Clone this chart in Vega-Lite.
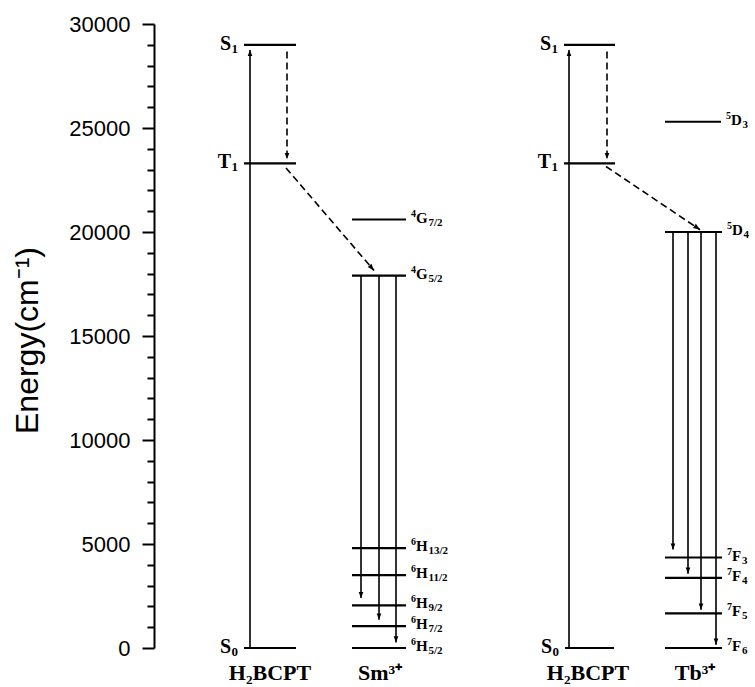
{
  "$schema": "https://vega.github.io/schema/vega-lite/v6.json",
  "width": 600,
  "height": 624,
  "autosize": {"type": "none"},
  "padding": {"left": 154, "top": 24, "right": 1, "bottom": 39},
  "background": "white",
  "config": {"view": {"stroke": null}},
  "resolve": {"axis": {"y": "independent"}},
  "datasets": {
    "levels": [
      {"x1": 90, "x2": 142, "e": 29000, "sup": "", "main": "S", "sub": "1", "side": "left"},
      {"x1": 90, "x2": 142, "e": 23300, "sup": "", "main": "T", "sub": "1", "side": "left"},
      {"x1": 90, "x2": 142, "e": 0, "sup": "", "main": "S", "sub": "0", "side": "left"},
      {"x1": 198, "x2": 252, "e": 20600, "sup": "4", "main": "G", "sub": "7/2", "side": "right"},
      {"x1": 198, "x2": 252, "e": 17900, "sup": "4", "main": "G", "sub": "5/2", "side": "right"},
      {"x1": 198, "x2": 252, "e": 4800, "sup": "6", "main": "H", "sub": "13/2", "side": "right"},
      {"x1": 198, "x2": 252, "e": 3500, "sup": "6", "main": "H", "sub": "11/2", "side": "right"},
      {"x1": 198, "x2": 252, "e": 2050, "sup": "6", "main": "H", "sub": "9/2", "side": "right"},
      {"x1": 198, "x2": 252, "e": 1050, "sup": "6", "main": "H", "sub": "7/2", "side": "right"},
      {"x1": 198, "x2": 252, "e": 0, "sup": "6", "main": "H", "sub": "5/2", "side": "right"},
      {"x1": 410, "x2": 461, "e": 29000, "sup": "", "main": "S", "sub": "1", "side": "left"},
      {"x1": 410, "x2": 461, "e": 23300, "sup": "", "main": "T", "sub": "1", "side": "left"},
      {"x1": 411, "x2": 460, "e": 0, "sup": "", "main": "S", "sub": "0", "side": "left"},
      {"x1": 511, "x2": 567, "e": 25300, "sup": "5", "main": "D", "sub": "3", "side": "right"},
      {"x1": 511, "x2": 568, "e": 20000, "sup": "5", "main": "D", "sub": "4", "side": "right"},
      {"x1": 511, "x2": 568, "e": 4350, "sup": "7", "main": "F", "sub": "3", "side": "right"},
      {"x1": 511, "x2": 568, "e": 3370, "sup": "7", "main": "F", "sub": "4", "side": "right"},
      {"x1": 511, "x2": 568, "e": 1660, "sup": "7", "main": "F", "sub": "5", "side": "right"},
      {"x1": 511, "x2": 568, "e": 0, "sup": "7", "main": "F", "sub": "6", "side": "right"}
    ],
    "arrows": [
      {"x0": 96, "e0": 0, "x1": 96, "e1": 28750, "kind": "absorption"},
      {"x0": 133, "e0": 28680, "x1": 133, "e1": 23500, "kind": "ISC"},
      {"x0": 132, "e0": 23080, "x1": 220, "e1": 18150, "kind": "ET"},
      {"x0": 207, "e0": 17900, "x1": 207, "e1": 2400, "kind": "emission"},
      {"x0": 225, "e0": 17900, "x1": 225, "e1": 1360, "kind": "emission"},
      {"x0": 242, "e0": 17900, "x1": 242, "e1": 270, "kind": "emission"},
      {"x0": 415, "e0": 0, "x1": 415, "e1": 28750, "kind": "absorption"},
      {"x0": 453, "e0": 28680, "x1": 453, "e1": 23500, "kind": "ISC"},
      {"x0": 452, "e0": 23150, "x1": 546, "e1": 20110, "kind": "ET"},
      {"x0": 519, "e0": 20000, "x1": 519, "e1": 4730, "kind": "emission"},
      {"x0": 534, "e0": 20000, "x1": 534, "e1": 3570, "kind": "emission"},
      {"x0": 547, "e0": 20000, "x1": 547, "e1": 1840, "kind": "emission"},
      {"x0": 562, "e0": 20000, "x1": 562, "e1": 160, "kind": "emission"}
    ],
    "species": [
      {"x": 116, "name": "H₂BCPT"},
      {"x": 226, "name": "Sm³⁺"},
      {"x": 434, "name": "H₂BCPT"},
      {"x": 541, "name": "Tb³⁺"}
    ]
  },
  "layer": [
    {
      "data": {"name": "levels"},
      "mark": {"type": "rule", "strokeWidth": 2.2, "color": "black"},
      "encoding": {
        "x": {"field": "x1", "type": "quantitative", "scale": {"domain": [0, 600]}, "axis": null},
        "x2": {"field": "x2"},
        "y": {
          "field": "e", "type": "quantitative",
          "scale": {"domain": [0, 30000], "nice": false, "zero": false},
          "axis": {
            "orient": "left",
            "title": "Energy(cm⁻¹)",
            "values": [0, 5000, 10000, 15000, 20000, 25000, 30000],
            "format": "d",
            "tickSize": 12,
            "tickWidth": 2,
            "tickColor": "black",
            "domainColor": "black",
            "domainWidth": 2,
            "grid": false,
            "labelFont": "Liberation Sans",
            "labelFontSize": 22,
            "labelColor": "black",
            "labelPadding": 12,
            "labelFlush": false,
            "labelOverlap": false,
            "titleFont": "Liberation Sans",
            "titleFontSize": 32,
            "titleFontWeight": "normal",
            "titleColor": "black",
            "titleAngle": -90,
            "titleAlign": "center",
            "titleBaseline": "alphabetic",
            "titleX": -117,
            "titleY": 316
          }
        }
      }
    },
    {
      "data": {"name": "arrows"},
      "mark": {"type": "rule", "strokeWidth": 1.6, "color": "black"},
      "encoding": {
        "x": {"field": "x0", "type": "quantitative", "axis": null},
        "x2": {"field": "x1"},
        "y": {
          "field": "e0", "type": "quantitative",
          "axis": {
            "orient": "left",
            "title": null,
            "values": [1000,2000,3000,4000,6000,7000,8000,9000,11000,12000,13000,14000,16000,17000,18000,19000,21000,22000,23000,24000,26000,27000,28000,29000],
            "labels": false,
            "domain": false,
            "grid": false,
            "tickSize": 7,
            "tickWidth": 2,
            "tickColor": "black"
          }
        },
        "y2": {"field": "e1"},
        "strokeDash": {"field": "kind", "type": "nominal", "scale": {"domain": ["absorption", "emission", "ISC", "ET"], "range": [[1, 0], [1, 0], [7, 4], [7, 4]]}, "legend": null},
        "strokeWidth": {"field": "kind", "type": "nominal", "scale": {"domain": ["absorption", "emission", "ISC", "ET"], "range": [1.6, 1.6, 2, 2]}, "legend": null}
      }
    },
    {
      "data": {"name": "arrows"},
      "transform": [{"filter": "datum.x0 == datum.x1 && datum.e1 < datum.e0"}],
      "mark": {"type": "point", "shape": "M-0.38,-1L0,0L0.38,-1Z", "filled": true, "color": "black", "opacity": 1, "size": 150, "strokeWidth": 0},
      "encoding": {
        "x": {"field": "x1", "type": "quantitative", "axis": null},
        "y": {"field": "e1", "type": "quantitative", "axis": null}
      }
    },
    {
      "data": {"name": "arrows"},
      "transform": [{"filter": "datum.e1 > datum.e0"}],
      "mark": {"type": "point", "shape": "M-0.38,1L0,0L0.38,1Z", "filled": true, "color": "black", "opacity": 1, "size": 150, "strokeWidth": 0},
      "encoding": {
        "x": {"field": "x1", "type": "quantitative", "axis": null},
        "y": {"field": "e1", "type": "quantitative", "axis": null}
      }
    },
    {
      "data": {"name": "arrows"},
      "transform": [{"filter": "datum.x0 != datum.x1 && datum.x0 < 300"}],
      "mark": {"type": "point", "shape": "M-0.38,-1L0,0L0.38,-1Z", "filled": true, "color": "black", "opacity": 1, "size": 180, "strokeWidth": 0, "angle": 319},
      "encoding": {
        "x": {"field": "x1", "type": "quantitative", "axis": null},
        "y": {"field": "e1", "type": "quantitative", "axis": null}
      }
    },
    {
      "data": {"name": "arrows"},
      "transform": [{"filter": "datum.x0 != datum.x1 && datum.x0 > 300"}],
      "mark": {"type": "point", "shape": "M-0.38,-1L0,0L0.38,-1Z", "filled": true, "color": "black", "opacity": 1, "size": 180, "strokeWidth": 0, "angle": 304},
      "encoding": {
        "x": {"field": "x1", "type": "quantitative", "axis": null},
        "y": {"field": "e1", "type": "quantitative", "axis": null}
      }
    },
    {
      "data": {"name": "levels"},
      "transform": [{"filter": "datum.side == 'left'"}],
      "mark": {"type": "text", "align": "right", "baseline": "alphabetic", "dx": -13, "dy": 5, "font": "Liberation Serif", "fontWeight": "bold", "fontSize": 20, "color": "black"},
      "encoding": {
        "x": {"field": "x1", "type": "quantitative", "axis": null},
        "y": {"field": "e", "type": "quantitative", "axis": null},
        "text": {"field": "main"}
      }
    },
    {
      "data": {"name": "levels"},
      "transform": [{"filter": "datum.side == 'left'"}],
      "mark": {"type": "text", "align": "right", "baseline": "alphabetic", "dx": -6, "dy": 8, "font": "Liberation Serif", "fontWeight": "bold", "fontSize": 13, "color": "black"},
      "encoding": {
        "x": {"field": "x1", "type": "quantitative", "axis": null},
        "y": {"field": "e", "type": "quantitative", "axis": null},
        "text": {"field": "sub"}
      }
    },
    {
      "data": {"name": "levels"},
      "transform": [{"filter": "datum.side == 'right'"}],
      "mark": {"type": "text", "align": "left", "baseline": "alphabetic", "dx": 5, "dy": -3, "font": "Liberation Serif", "fontWeight": "bold", "fontSize": 10, "color": "black"},
      "encoding": {
        "x": {"field": "x2", "type": "quantitative", "axis": null},
        "y": {"field": "e", "type": "quantitative", "axis": null},
        "text": {"field": "sup"}
      }
    },
    {
      "data": {"name": "levels"},
      "transform": [{"filter": "datum.side == 'right'"}],
      "mark": {"type": "text", "align": "left", "baseline": "alphabetic", "dx": 10, "dy": 3, "font": "Liberation Serif", "fontWeight": "bold", "fontSize": 15, "color": "black"},
      "encoding": {
        "x": {"field": "x2", "type": "quantitative", "axis": null},
        "y": {"field": "e", "type": "quantitative", "axis": null},
        "text": {"field": "main"}
      }
    },
    {
      "data": {"name": "levels"},
      "transform": [{"filter": "datum.side == 'right'"}],
      "mark": {"type": "text", "align": "left", "baseline": "alphabetic", "dx": {"expr": "datum.main == 'F' ? 20 : datum.main == 'D' ? 21.5 : 22.5"}, "dy": 6, "font": "Liberation Serif", "fontWeight": "bold", "fontSize": 11, "color": "black"},
      "encoding": {
        "x": {"field": "x2", "type": "quantitative", "axis": null},
        "y": {"field": "e", "type": "quantitative", "axis": null},
        "text": {"field": "sub"}
      }
    },
    {
      "data": {"name": "species"},
      "mark": {"type": "text", "align": "center", "baseline": "alphabetic", "dy": 32, "font": "Liberation Serif", "fontWeight": "bold", "fontSize": 22, "color": "black"},
      "encoding": {
        "x": {"field": "x", "type": "quantitative", "axis": null},
        "y": {"datum": 0, "type": "quantitative", "axis": null},
        "text": {"field": "name"}
      }
    }
  ]
}
